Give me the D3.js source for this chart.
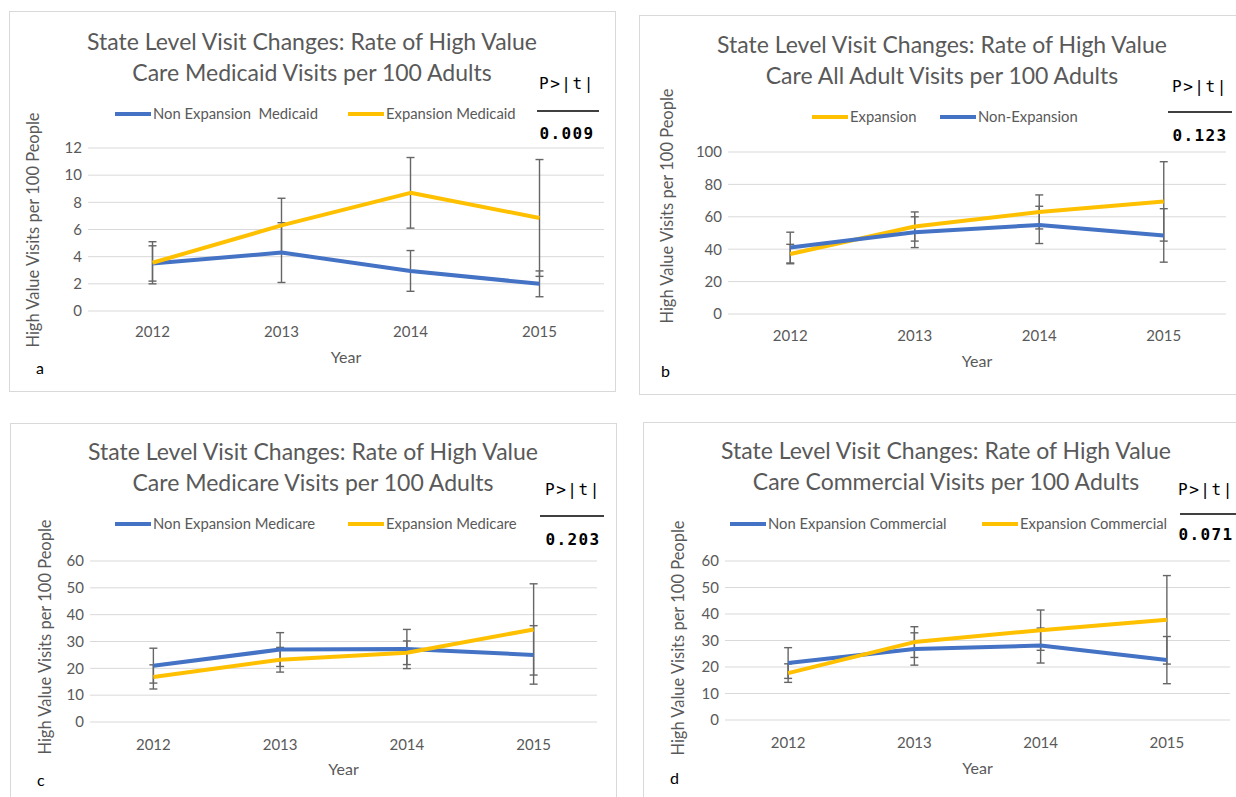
<!DOCTYPE html>
<html>
<head>
<meta charset="utf-8">
<script src="https://cdn.jsdelivr.net/npm/d3@7"></script>
<style>
  body { margin: 0; background: #fff; }
  text { font-family: Lato, "Open Sans", sans-serif; }
</style>
</head>
<body>
<div class="chart"></div>
<script>
const years = ["2012", "2013", "2014", "2015"];

// panel a: Medicaid
const medicaidNonExp = [3.5, 4.3, 2.95, 2.0];
const medicaidNonExpErr = [1.3, 2.2, 1.5, 0.95];
const medicaidExp = [3.55, 6.3, 8.7, 6.85];
const medicaidExpErr = [1.55, 2.0, 2.6, 4.3];

// panel b: all adult
const allExp = [37, 54, 63, 69.5];
const allExpErr = [6, 9, 10.5, 24.5];
const allNonExp = [41, 50.5, 55, 48.5];
const allNonExpErr = [9.5, 9.5, 11.5, 16.5];

// panel c: Medicare
const medicareNonExp = [21, 27, 27.2, 25];
const medicareNonExpErr = [6.5, 6.3, 7.3, 10.9];
const medicareExp = [16.8, 23.2, 25.8, 34.5];
const medicareExpErr = [4.5, 4.6, 4.4, 17];

// panel d: Commercial
const commercialNonExp = [21.5, 26.8, 28.1, 22.6];
const commercialNonExpErr = [5.8, 6.1, 6.6, 8.9];
const commercialExp = [17.7, 29.4, 33.9, 37.8];
const commercialExpErr = [3.5, 5.8, 7.6, 16.7];

const titles = [
  ["State Level Visit Changes: Rate of High Value", "Care Medicaid Visits per 100 Adults"],
  ["State Level Visit Changes: Rate of High Value", "Care All Adult Visits per 100 Adults"],
  ["State Level Visit Changes: Rate of High Value", "Care Medicare Visits per 100 Adults"],
  ["State Level Visit Changes: Rate of High Value", "Care Commercial Visits per 100 Adults"]
];
const pValues = ["0.009", "0.123", "0.203", "0.071"];
const panelLetters = ["a", "b", "c", "d"];
const yTicksA = [0, 2, 4, 6, 8, 10, 12];
const yTicksB = [0, 20, 40, 60, 80, 100];
const yTicksC = [0, 10, 20, 30, 40, 50, 60];
const yTicksD = [0, 10, 20, 30, 40, 50, 60];

const blue = "#4472c4", gold = "#ffc000", grey = "#595959";

const panels = [
  {
    box: [9.5, 11.5, 606, 380], plot: [88, 604, 148, 311], ticks: yTicksA,
    titleX: 312, titleY: [50, 81], yTitle: [33, 230], xLabY: 337, yearY: 363, letter: [36, 374],
    p: { x: 567, y: 89, rule: [537, 599, 111], vy: 139 },
    series: [
      { name: "Non Expansion  Medicaid", values: medicaidNonExp, err: medicaidNonExpErr, color: blue, lx: 115 },
      { name: "Expansion Medicaid", values: medicaidExp, err: medicaidExpErr, color: gold, lx: 348 }
    ], legendY: 114
  },
  {
    box: [639.5, 15.5, 600, 379], plot: [728, 1226, 152, 314], ticks: yTicksB,
    titleX: 942, titleY: [53, 84], yTitle: [667, 206], xLabY: 341, yearY: 367, letter: [661, 377],
    p: { x: 1200, y: 92, rule: [1168, 1232, 112], vy: 141 },
    series: [
      { name: "Expansion", values: allExp, err: allExpErr, color: gold, lx: 812 },
      { name: "Non-Expansion", values: allNonExp, err: allNonExpErr, color: blue, lx: 940 }
    ], legendY: 117
  },
  {
    box: [10.5, 423.5, 606, 380], plot: [90, 597, 561, 722], ticks: yTicksC,
    titleX: 313, titleY: [460, 491], yTitle: [45, 637], xLabY: 750, yearY: 775, letter: [37, 786],
    p: { x: 573, y: 495, rule: [540, 604, 516], vy: 545 },
    series: [
      { name: "Non Expansion Medicare", values: medicareNonExp, err: medicareNonExpErr, color: blue, lx: 115 },
      { name: "Expansion Medicare", values: medicareExp, err: medicareExpErr, color: gold, lx: 348 }
    ], legendY: 524
  },
  {
    box: [643.5, 422.5, 600, 380], plot: [725, 1230, 561, 720], ticks: yTicksD,
    titleX: 946, titleY: [459, 490], yTitle: [678, 638], xLabY: 748, yearY: 774, letter: [670, 784],
    p: { x: 1206, y: 495, rule: [1180, 1240, 514], vy: 540 },
    series: [
      { name: "Non Expansion Commercial", values: commercialNonExp, err: commercialNonExpErr, color: blue, lx: 730 },
      { name: "Expansion Commercial", values: commercialExp, err: commercialExpErr, color: gold, lx: 982 }
    ], legendY: 524
  }
];

const svg = d3.select(".chart").append("svg")
  .attr("width", 1236)
  .attr("height", 797);

panels.forEach((cfg, i) => {
  const g = svg.append("g");
  const [bx, by, bw, bh] = cfg.box;
  const [left, right, top, bottom] = cfg.plot;

  g.append("rect")
    .attr("x", bx).attr("y", by).attr("width", bw).attr("height", bh)
    .attr("fill", "#fff").attr("stroke", "#d9d9d9").attr("stroke-width", 1);

  const x = d3.scaleBand().domain(years).range([left, right]);
  const y = d3.scaleLinear().domain([0, d3.max(cfg.ticks)]).range([bottom, top]);

  // gridlines
  g.append("g").selectAll("line").data(cfg.ticks).join("line")
    .attr("x1", left).attr("x2", right)
    .attr("y1", d => y(d)).attr("y2", d => y(d))
    .attr("stroke", "#d9d9d9").attr("stroke-width", 1);

  // y axis labels
  const yAxis = g.append("g")
    .attr("transform", `translate(${left - 6},0)`)
    .call(d3.axisLeft(y).tickValues(cfg.ticks).tickSize(0).tickPadding(0));
  yAxis.select(".domain").remove();
  yAxis.selectAll("text")
    .attr("font-size", 15).attr("fill", grey)
    .style("font-family", "Lato, sans-serif");

  // x axis labels
  const xAxis = g.append("g")
    .attr("transform", `translate(0,${cfg.xLabY - 11})`)
    .call(d3.axisBottom(x).tickSize(0).tickPadding(0));
  xAxis.select(".domain").remove();
  xAxis.selectAll("text")
    .attr("font-size", 15).attr("fill", grey).attr("dy", "0.71em")
    .style("font-family", "Lato, sans-serif");

  // title
  g.append("g").selectAll("text").data(titles[i]).join("text")
    .attr("x", cfg.titleX)
    .attr("y", (d, j) => cfg.titleY[j])
    .attr("text-anchor", "middle")
    .attr("font-size", 23)
    .attr("fill", grey)
    .text(d => d);

  // axis titles
  g.append("text")
    .attr("transform", `translate(${cfg.yTitle[0]},${cfg.yTitle[1]}) rotate(-90)`)
    .attr("text-anchor", "middle").attr("dy", "0.35em")
    .attr("font-size", 16.5).attr("fill", grey)
    .text("High Value Visits per 100 People");
  g.append("text")
    .attr("x", (left + right) / 2).attr("y", cfg.yearY)
    .attr("text-anchor", "middle")
    .attr("font-size", 16).attr("fill", grey)
    .text("Year");
  g.append("text")
    .attr("x", cfg.letter[0]).attr("y", cfg.letter[1])
    .attr("font-size", 16).attr("fill", "#000")
    .text(panelLetters[i]);

  // p-value box
  g.append("text")
    .attr("x", cfg.p.x).attr("y", cfg.p.y)
    .attr("text-anchor", "middle")
    .attr("font-size", 16).attr("letter-spacing", 1.6).attr("fill", "#000")
    .style("font-family", "'DejaVu Sans Mono', monospace")
    .text("P>|t|");
  g.append("line")
    .attr("x1", cfg.p.rule[0]).attr("x2", cfg.p.rule[1])
    .attr("y1", cfg.p.rule[2]).attr("y2", cfg.p.rule[2])
    .attr("stroke", "#000").attr("stroke-width", 1.5);
  g.append("text")
    .attr("x", cfg.p.x).attr("y", cfg.p.vy)
    .attr("text-anchor", "middle")
    .attr("font-size", 16).attr("letter-spacing", 1.4)
    .attr("font-weight", "bold").attr("fill", "#000")
    .style("font-family", "'DejaVu Sans Mono', monospace")
    .text(pValues[i]);

  // legend
  cfg.series.forEach(s => {
    g.append("line")
      .attr("x1", s.lx).attr("x2", s.lx + 36)
      .attr("y1", cfg.legendY).attr("y2", cfg.legendY)
      .attr("stroke", s.color).attr("stroke-width", 4);
    g.append("text")
      .attr("x", s.lx + 38).attr("y", cfg.legendY).attr("dy", "0.35em")
      .attr("font-size", 14.8).attr("fill", grey)
      .attr("xml:space", "preserve")
      .text(s.name);
  });

  const cx = d => x(d) + x.bandwidth() / 2;
  const line = d3.line().x(d => cx(d.year)).y(d => y(d.v));

  // error bars
  cfg.series.forEach(s => {
    const pts = years.map((yr, k) => ({ year: yr, v: s.values[k], e: s.err[k] }));
    const eb = g.append("g").attr("stroke", "#666").attr("stroke-width", 1.4);
    eb.selectAll(".bar").data(pts).join("line")
      .attr("x1", d => cx(d.year)).attr("x2", d => cx(d.year))
      .attr("y1", d => y(d.v - d.e)).attr("y2", d => y(d.v + d.e));
    eb.selectAll(".capTop").data(pts).join("line").attr("class", "capTop")
      .attr("x1", d => cx(d.year) - 4).attr("x2", d => cx(d.year) + 4)
      .attr("y1", d => y(d.v + d.e)).attr("y2", d => y(d.v + d.e));
    eb.selectAll(".capBot").data(pts).join("line").attr("class", "capBot")
      .attr("x1", d => cx(d.year) - 4).attr("x2", d => cx(d.year) + 4)
      .attr("y1", d => y(d.v - d.e)).attr("y2", d => y(d.v - d.e));
  });

  // series lines
  cfg.series.forEach(s => {
    const pts = years.map((yr, k) => ({ year: yr, v: s.values[k] }));
    g.append("path")
      .datum(pts)
      .attr("d", line)
      .attr("fill", "none")
      .attr("stroke", s.color)
      .attr("stroke-width", 4)
      .attr("stroke-linejoin", "round");
  });
});
</script>
</body>
</html>
